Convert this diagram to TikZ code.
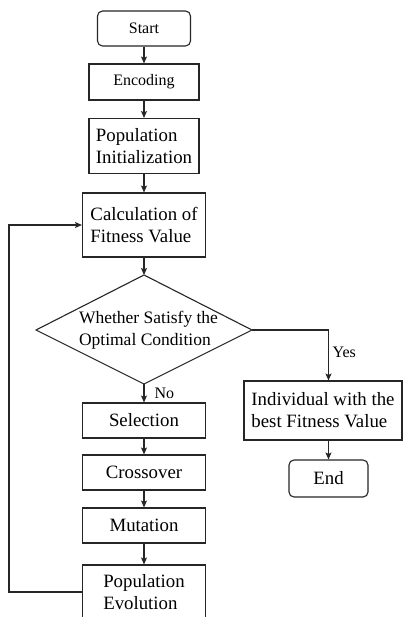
\documentclass[tikz,border=0pt]{standalone}
\usepackage{fontspec}
\setmainfont{Liberation Serif}
\usetikzlibrary{arrows.meta,calc}
\begin{document}
\begin{tikzpicture}[x=1pt,y=-1pt, line width=1.1pt, draw=black!85,
  box/.style={draw, rectangle, inner sep=0pt, align=left, font=\fontsize{18.8}{22}\selectfont},
  term/.style={box, rounded corners=5pt},
  small/.style={font=\fontsize{16}{19}\selectfont},
  arr/.style={-{Stealth[length=7pt,width=6pt,inset=1.5pt]}},
  lbl/.style={font=\fontsize{16}{19}\selectfont, inner sep=0pt}]
\clip (0,0) rectangle (403,617);
\fill[white] (0,0) rectangle (403,617);
\node[term, small, minimum width=93pt, minimum height=35pt] (start) at (144,28.5) {Start};
\node[box, small, minimum width=110pt, minimum height=36pt] (enc) at (144,82) {Encoding};
\node[box, minimum width=110pt, minimum height=55pt] (init) at (144,146) {Population\\Initialization};
\node[box, minimum width=123pt, minimum height=64pt] (calc) at (144,225) {Calculation of\\Fitness Value};
\coordinate (dt) at (144,275);
\coordinate (dr) at (252,330);
\coordinate (db) at (144,384);
\coordinate (dl) at (36,330);
\draw (dt) -- (dr) -- (db) -- (dl) -- cycle;
\node[font=\fontsize{17.5}{22}\selectfont, align=left, inner sep=0pt] (dtext) at (148.5,330) {Whether Satisfy the\\Optimal Condition};
\node[box, minimum width=123pt, minimum height=35pt] (sel) at (144,420.5) {Selection};
\node[box, minimum width=123pt, minimum height=35pt] (cross) at (144,472.5) {Crossover};
\node[box, minimum width=123pt, minimum height=35pt] (mut) at (144,525.5) {Mutation};
\node[box, minimum width=123pt, minimum height=54pt] (evo) at (144,592) {Population\\Evolution};
\node[box, minimum width=158pt, minimum height=59pt] (ind) at (323,410.5) {Individual with the\\best Fitness Value};
\node[term, minimum width=79pt, minimum height=37pt] (endn) at (328.5,478.5) {End};
\draw[arr] (start) -- (enc);
\draw[arr] (enc) -- (init);
\draw[arr] (init) -- (calc);
\draw[arr] (calc) -- (dt);
\draw[arr] (db) -- (sel);
\draw[arr] (sel) -- (cross);
\draw[arr] (cross) -- (mut);
\draw[arr] (mut) -- (evo);
\draw[arr] (dr) -| (ind.north -| endn);
\draw[arr] (ind.south -| endn) -- (endn);
\draw[arr] (evo.west) -- ++(-73,0) |- (calc.west);
\node[lbl, anchor=west] (no) at (154,393) {No};
\node[lbl, anchor=west] (yes) at (332,352) {Yes};
\end{tikzpicture}
\end{document}
